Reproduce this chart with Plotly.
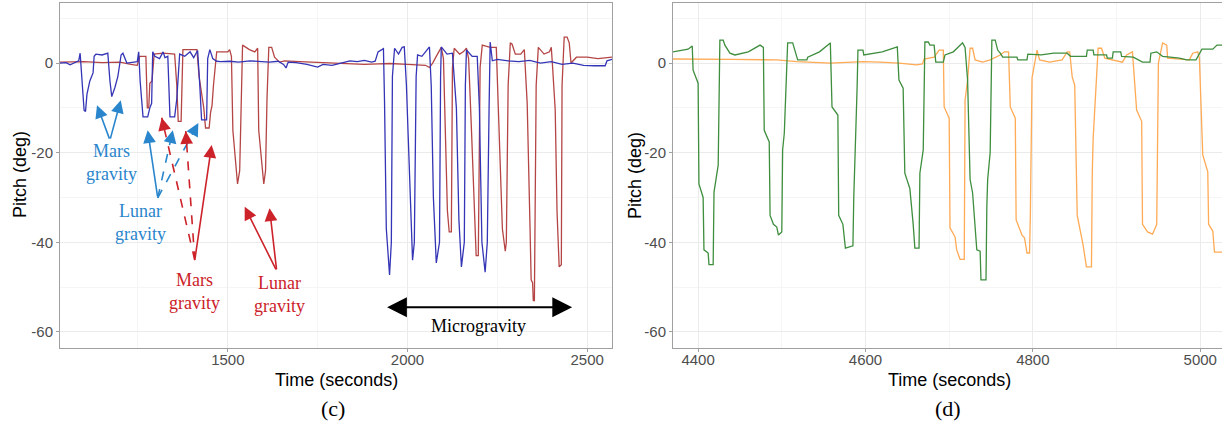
import math
import plotly.graph_objects as go

# ---- panel (c): pitch traces, time in seconds / pitch in degrees ----
blue_t = [1033, 1050, 1061, 1075, 1085, 1089, 1094, 1100, 1104, 1108, 1116, 1125, 1128, 1133, 1150,
          1166, 1172, 1177, 1186, 1194, 1203, 1208, 1219, 1235, 1248, 1252, 1256, 1264, 1277, 1283,
          1288, 1291, 1297, 1310, 1320, 1325, 1333, 1339, 1352, 1358, 1363, 1366, 1380, 1395, 1405,
          1416, 1422, 1427, 1441, 1444, 1450, 1458, 1469, 1480, 1505, 1530, 1561, 1590, 1616, 1640,
          1655, 1662, 1668, 1690, 1720, 1750, 1765, 1790, 1820, 1840, 1860, 1880, 1900, 1910, 1918,
          1928, 1933, 1936, 1941, 1950, 1955, 1958, 1964, 1975, 1985, 1991, 1997, 2002, 2014, 2019,
          2024, 2028, 2040, 2050, 2061, 2066, 2072, 2080, 2089, 2092, 2094, 2110, 2125, 2136, 2143,
          2150, 2158, 2161, 2164, 2180, 2194, 2200, 2207, 2216, 2222, 2227, 2230, 2236, 2250, 2280,
          2310, 2340, 2370, 2400, 2430, 2460, 2490, 2520, 2550, 2555, 2569]
blue_p = [0, 0.1, -0.4, 0.2, 0.5, 2.2, -3, -10.5, -10.8, -7, -4, -2.2, 1.5, 2, 1.8,
          2.2, -4, -7.5, -5.4, -3, 1.8, 2.2, 0, 0.1, 0.3, 2.5, -4, -12, -12, -10,
          -9, 2.5, 1.5, 1, 2.5, 1.2, 1.5, -12, -12, -8, 0, 2, 1.5, 2.5, 1.2,
          2.8, -5, -12.7, -12.7, 1, 3, 1, 0.4, 0.3, 0.4, 0.2, 0.5, 0.3, 0.2, 0.4,
          -0.3, -1.1, 0.2, 0.1, -0.3, -0.9, -0.3, -0.5, 0, 0.5, 0.3, 0.6, 0.2, 0.4, 2.5,
          3.1, 3.2, -8.5, -37, -47.3, -40, -3, 3.3, 2, 3.5, 3.6, -5, -16.5, -44, -40,
          -3, 1.8, 1.5, 2.5, 3.6, -5, -30, -44.6, -40, -3, 3.6, 2, 2.2, -10, -35,
          -45.5, -40, -5, 2.9, 1.5, 1.5, -10, -40, -46.7, -40, -10, 4.7, 0.5, 0.8, 0.5,
          0.3, 0.6, 0, 0.3, -0.3, 0, -0.5, -0.6, -0.6, 0.5, 0.8]

red_t = [1033, 1100, 1150, 1200, 1230, 1248, 1255, 1272, 1276, 1280, 1283, 1289, 1295, 1320, 1352,
         1358, 1362, 1370, 1375, 1395, 1414, 1420, 1433, 1438, 1448, 1452, 1456, 1460, 1469, 1500,
         1505, 1510, 1514, 1527, 1533, 1537, 1541, 1560, 1575, 1583, 1586, 1600, 1605, 1609, 1614,
         1622, 1630, 1644, 1658, 1700, 1760, 1820, 1880, 1920, 1950, 2000, 2050, 2061, 2070, 2080,
         2094, 2100, 2105, 2111, 2116, 2122, 2125, 2130, 2145, 2155, 2164, 2170, 2178, 2186, 2191,
         2197, 2202, 2208, 2230, 2247, 2255, 2264, 2272, 2275, 2280, 2286, 2291, 2300, 2315, 2325,
         2327, 2333, 2341, 2344, 2348, 2350, 2353, 2358, 2364, 2380, 2395, 2400, 2403, 2411, 2416,
         2422, 2428, 2430, 2436, 2444, 2450, 2455, 2470, 2500, 2530, 2569]
red_p = [0.2, 0.3, 0.1, 0.2, -0.3, -0.5, 1.5, 1.5, -10, -10, -4.5, -4, 2, 2.2, 2,
         -5, -13, -13, 3, 3, 3, -3, -10, -14.5, -14.5, -11, -9.5, -5, 2.5, 2.5,
         3, 1.5, -15, -27, -24, -10, 4, 3, 2.5, 3.3, -15, -27, -24, -8, 3.5,
         3.5, 1.3, 0.2, 0.5, 0.3, 0.1, 0, -0.3, -0.2, -0.1, -0.3, -0.5, -1, 0, 1.5,
         3.5, 1, -15, -33, -37.7, -37.7, -1, 3.3, 2, 2.5, 3.3, 1, -15, -33, -43,
         -43, -1, 4, 3.5, 3.5, -16, -37, -42, -40, -5, 4.5, 4.2, 2, 2, 3,
         0, -9, -37, -48.4, -49, -53, -53, -5, 3.5, 2, 2.5, 3.5, 0, -10.5, -33,
         -45.5, -45, -5, 5.8, 5.8, 4.5, 0, 1.3, 1.3, 1.0, 1.3]

# ---- panel (d) ----
green_t = [4370, 4388, 4393, 4394, 4400, 4401, 4406, 4407, 4412, 4413, 4418, 4419, 4424, 4426, 4430,
           4432, 4438, 4444, 4460, 4474, 4478, 4479, 4485, 4486, 4490, 4494, 4496, 4500, 4501, 4503,
           4507, 4513, 4519, 4530, 4531, 4545, 4558, 4560, 4567, 4568, 4573, 4576, 4585, 4586, 4590,
           4591, 4597, 4598, 4620, 4638, 4640, 4645, 4647, 4653, 4657, 4659, 4664, 4665, 4669, 4671,
           4675, 4677, 4682, 4684, 4693, 4695, 4705, 4716, 4719, 4722, 4725, 4728, 4733, 4737, 4738,
           4744, 4745, 4746, 4749, 4751, 4755, 4758, 4761, 4764, 4781, 4782, 4793, 4794, 4810, 4825,
           4841, 4845, 4864, 4865, 4872, 4873, 4888, 4889, 4895, 4896, 4905, 4906, 4920, 4931, 4940,
           4941, 4948, 4955, 4964, 4975, 4984, 4995, 5002, 5015, 5020, 5026]
green_p = [2.5, 3.1, 3.8, -1.6, -4.5, -27, -30, -41.7, -42.4, -45, -45, -28.8, -22.8, 5.1, 5.1,
           4, 2.2, 1.8, 2.5, 4, 3.5, -15, -17.6, -34, -36, -36.6, -38.4, -37.7, -19.4, -15.6,
           4.5, 4.5, 0.7, 0.7, 1.3, 2.5, 4.5, -9.8, -11.6, -34, -36, -41.3, -40.8, -30, -5.4,
           2.9, 2.9, 1.8, 2.5, 3.6, -3.8, -5.6, -24.6, -28, -36, -41.3, -41.3, -24.6, -19.4, 4.7,
           4.7, 4, 4, 0.2, 0.2, 1.8, 2.5, 4.5, 3.5, -3.8, -26, -29, -41.7, -42, -48.4,
           -48.4, -32, -26, -19.9, 5.1, 5.1, 2.9, 2.2, 1.3, 1.3, 0.7, 0.7, 2.0, 1.8, 2.2,
           2.2, 1.5, 1.5, 2.9, 2.9, 1.8, 1.8, 1.1, 1.1, 2.5, 2.5, 1.5, 1.3, 0.2, 0.2,
           2.2, 2.5, 1.5, 1.3, 1.1, 0.7, 0.7, 3.1, 3.1, 4, 4]

orange_t = [4370, 4400, 4414, 4440, 4494, 4518, 4558, 4597, 4617, 4640, 4661, 4668, 4670, 4682, 4688,
            4693, 4694, 4700, 4701, 4707, 4709, 4713, 4718, 4719, 4722, 4725, 4728, 4731, 4740, 4749,
            4761, 4766, 4771, 4773, 4779, 4780, 4787, 4790, 4793, 4796, 4797, 4799, 4805, 4808, 4820,
            4835, 4841, 4844, 4847, 4850, 4853, 4860, 4864, 4870, 4871, 4872, 4878, 4882, 4886, 4907,
            4912, 4919, 4924, 4930, 4931, 4937, 4943, 4948, 4950, 4955, 4960, 4961, 4987, 4991, 4997,
            4999, 5003, 5009, 5010, 5015, 5017, 5026]
orange_p = [0.9, 0.9, 0.9, 0.8, 0.7, 0.3, 0, 0.3, 0.2, 0, -0.4, -0.2, 0.9, 1.3, 2.9,
            2.9, -9.8, -12.3, -36.8, -38.8, -41.7, -43.8, -43.8, -8.3, -3.8, 3.3, 3.3, 0.7, 0.2, 0.7,
            1.8, 2.5, 2.5, -9.8, -12.3, -35, -38.4, -39, -42.4, -42.4, -34, -3.3, 2.9, 0.7, 0.2,
            0.7, 2.5, 2.5, -3.1, -4.9, -34, -40.6, -45.5, -45.5, -24.6, -17, 3.3, 3.3, 1.1, 0.2,
            1.8, 2.5, -10.5, -13, -36, -37.7, -38.2, -36, 0, 4.5, 4, 1.1, 0.7, 2.2, 2.5,
            1.1, -20.5, -24.3, -36, -37.5, -42.2, -42.2]

# annotation labels on panel (c): (text, t, pitch, colour)
labels = [
    ("Mars<br>gravity", 1177, -22.3, "#2a86cc"),
    ("Lunar<br>gravity", 1258, -35.7, "#2a86cc"),
    ("Mars<br>gravity", 1408, -51.1, "#cc2229"),
    ("Lunar<br>gravity", 1644, -51.6, "#cc2229"),
]
# arrows: (tail_t, tail_p, head_t, head_p, colour, dashed)
arrows = [
    (1172, -17.2, 1136, -9.4, "#2a86cc", False),
    (1172, -17.2, 1202, -8.3, "#2a86cc", False),
    (1305, -30.1, 1277, -15.0, "#2a86cc", False),
    (1305, -30.1, 1347, -15.0, "#2a86cc", True),
    (1305, -30.1, 1418, -13.4, "#2a86cc", True),
    (1408, -44.0, 1316, -12.2, "#cc2229", True),
    (1408, -44.0, 1383, -15.2, "#cc2229", True),
    (1408, -44.0, 1455, -18.3, "#cc2229", False),
    (1636, -46.4, 1547, -32.1, "#cc2229", False),
    (1636, -46.4, 1616, -32.4, "#cc2229", False),
]
micro = (1939, 2458, -54.5)

W, H = 1222, 427
X1 = (60, 612)
X2 = (673, 1222)
Y_PX = (3, 348)
RANGE_X1 = [1033, 2569]
RANGE_X2 = [4370, 5026]
RANGE_Y = [-63.6, 13.4]

fig = go.Figure()
fig.add_trace(go.Scatter(x=red_t, y=red_p, mode="lines", line=dict(color="#b54545", width=1.3),
                         xaxis="x", yaxis="y"))
fig.add_trace(go.Scatter(x=blue_t, y=blue_p, mode="lines", line=dict(color="#3434b6", width=1.3),
                         xaxis="x", yaxis="y"))
fig.add_trace(go.Scatter(x=orange_t, y=orange_p, mode="lines", line=dict(color="#ffaa55", width=1.3),
                         xaxis="x2", yaxis="y2"))
fig.add_trace(go.Scatter(x=green_t, y=green_p, mode="lines", line=dict(color="#3e8e3e", width=1.3),
                         xaxis="x2", yaxis="y2"))

grid = "#ebebeb"
mgrid = "#f5f5f5"
border = "#a0a0a0"
tickfont = dict(family="Liberation Sans", size=15, color="#4d4d4d")
ydom = [1 - Y_PX[1] / H, 1 - Y_PX[0] / H]
yvals = [0, -20, -40, -60]

common_x = dict(showgrid=True, gridcolor=grid, gridwidth=1, zeroline=False, showline=True,
                linecolor=border, linewidth=1, ticks="outside", ticklen=3, tickcolor=border,
                tickfont=tickfont, tickmode="array")
common_y = dict(common_x, range=RANGE_Y, domain=ydom, tickvals=yvals,
                ticktext=[str(v) for v in yvals],
                minor=dict(tickmode="array", tickvals=[10, -10, -30, -50], showgrid=True,
                           gridcolor=mgrid, ticks=""))

fig.update_layout(
    width=W, height=H, margin=dict(l=0, r=0, t=0, b=0),
    paper_bgcolor="white", plot_bgcolor="white", showlegend=False,
    xaxis=dict(common_x, domain=[X1[0] / W, X1[1] / W], range=RANGE_X1, anchor="y", mirror=True,
               tickvals=[1500, 2000, 2500], ticktext=["1500", "2000", "2500"],
               ticklabelstandoff=-5,
               minor=dict(tickmode="array", tickvals=[1250, 1750, 2250], showgrid=True,
                          gridcolor=mgrid, ticks="")),
    yaxis=dict(common_y, anchor="x", mirror=True),
    xaxis2=dict(common_x, domain=[X2[0] / W, 1.0], range=RANGE_X2, anchor="y2", mirror=True,
                tickvals=[4400, 4600, 4800, 5000], ticktext=["4400", "4600", "4800", "5000"],
                ticklabelstandoff=-5,
                minor=dict(tickmode="array", tickvals=[4500, 4700, 4900], showgrid=True,
                           gridcolor=mgrid, ticks="")),
    yaxis2=dict(common_y, anchor="x2", mirror=False),
)

# axis titles and panel letters (positions in page pixels)
title_font = dict(family="Liberation Sans", size=18, color="black")
page = dict(xref="paper", yref="paper", showarrow=False, xanchor="center", yanchor="middle")
for cx in (336, 949):
    fig.add_annotation(text="Time (seconds)", x=cx / W, y=1 - 380 / H, font=title_font, **page)
for cx in (20, 635):
    fig.add_annotation(text="Pitch (deg)", x=cx / W, y=1 - 175 / H, font=title_font,
                       textangle=-90, **page)
for txt, cx in (("(c)", 333), ("(d)", 948)):
    fig.add_annotation(text=txt, x=cx / W, y=1 - 408 / H,
                       font=dict(family="Liberation Serif", size=22, color="black"), **page)

serif = "Liberation Serif"
for txt, t, p, col in labels:
    fig.add_annotation(text=txt, x=t, y=p, xref="x", yref="y", showarrow=False,
                       font=dict(family=serif, size=18, color=col))

# pixel scale of panel (c), used to size the short arrowheads of dashed arrows
sx = (X1[1] - X1[0]) / (RANGE_X1[1] - RANGE_X1[0])
sy = (Y_PX[1] - Y_PX[0]) / (RANGE_Y[1] - RANGE_Y[0])
for t0, p0, t1, p1, col, dashed in arrows:
    if dashed:
        fig.add_shape(type="line", x0=t0, y0=p0, x1=t1, y1=p1, xref="x", yref="y",
                      line=dict(color=col, width=1.6, dash="dash"))
        dx = (t0 - t1) * sx
        dy = -(p0 - p1) * sy
        n = math.hypot(dx, dy)
        fig.add_annotation(x=t1, y=p1, xref="x", yref="y", ax=dx / n * 9, ay=dy / n * 9,
                           showarrow=True, arrowhead=2, arrowsize=1.6, arrowwidth=1.6,
                           arrowcolor=col, text="")
    else:
        fig.add_annotation(x=t1, y=p1, xref="x", yref="y", ax=t0, ay=p0, axref="x", ayref="y",
                           showarrow=True, arrowhead=2, arrowsize=1.6, arrowwidth=1.6,
                           arrowcolor=col, text="")

m0, m1, mp = micro
fig.add_annotation(x=m1, y=mp, ax=m0, ay=mp, xref="x", yref="y", axref="x", ayref="y",
                   showarrow=True, arrowhead=2, arrowside="end+start", arrowsize=2.2,
                   arrowwidth=1.8, arrowcolor="black", text="")
fig.add_annotation(text="Microgravity", x=(m0 + m1) / 2 - 1, y=-58.7, xref="x", yref="y",
                   showarrow=False, font=dict(family=serif, size=18, color="black"))

# page body has a default 8px margin; drop it so the figure fills the window
fig.write_html("out.html", config={"displayModeBar": False},
               post_script="document.body.style.margin='0';")
